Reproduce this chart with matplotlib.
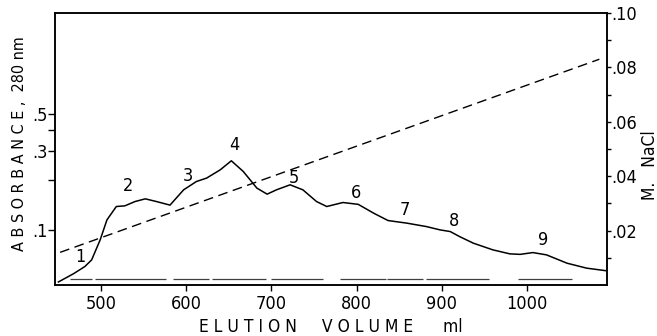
import matplotlib
matplotlib.use("Agg")
import matplotlib.pyplot as plt
from matplotlib.ticker import FixedLocator, NullFormatter, FuncFormatter

# elution profile, absorbance at 280 nm
elution_ml = [450, 468, 481, 489, 499, 507, 518, 528, 540, 552, 565, 581, 597,
              612, 624, 640, 653, 667, 683, 695, 706, 722, 737, 753, 765, 784,
              802, 820, 837, 859, 882, 898, 910, 921, 937, 960, 980, 992, 1007,
              1023, 1047, 1070, 1092]
absorbance = [0.049, 0.055, 0.0606, 0.0664, 0.0875, 0.1154, 0.1387, 0.140,
              0.1486, 0.1542, 0.1486, 0.1414, 0.1746, 0.1958, 0.2053, 0.2301,
              0.2606, 0.2249, 0.1788, 0.1645, 0.1746, 0.1871, 0.1746, 0.1486,
              0.1387, 0.1466, 0.1429, 0.1266, 0.1143, 0.1103, 0.1052, 0.1005,
              0.0982, 0.0916, 0.0837, 0.0763, 0.0722, 0.0717, 0.0735, 0.0712,
              0.0635, 0.0593, 0.0573]

# NaCl gradient (right axis)
gradient_ml = [452, 1085]
gradient_nacl = [0.012, 0.083]

# peak labels
peak_names = ["1", "2", "3", "4", "5", "6", "7", "8", "9"]
peak_ml = [476, 532, 602, 657, 726, 799, 857, 914, 1019]
peak_abs = [0.0696, 0.183, 0.212, 0.325, 0.205, 0.168, 0.132, 0.113, 0.088]

# pooled fractions (bars along the baseline)
pool_start = [464, 493, 584, 630, 700, 781, 836, 882, 989]
pool_end = [490, 576, 627, 694, 761, 834, 878, 955, 1053]
pool_level = 0.051

plt.rcParams["font.family"] = ["DejaVu Sans"]
plt.rcParams["font.stretch"] = "condensed"

fig = plt.figure(figsize=(6.57, 3.36), dpi=100)
ax = fig.add_axes([0.0837, 0.1518, 0.8402, 0.8095])

ax.plot(elution_ml, absorbance, color="black", lw=1.1)
ax.hlines([pool_level] * len(pool_start), pool_start, pool_end, color="0.25", lw=0.9)
for name, x, y in zip(peak_names, peak_ml, peak_abs):
    ax.text(x, y, name, ha="center", va="center", fontsize=13)

ax.set_yscale("log")
ax.set_ylim(0.047, 2.0)
ax.set_xlim(446, 1094)
ax.set_xticks([500, 600, 700, 800, 900, 1000])
ax.yaxis.set_major_locator(FixedLocator([0.1, 0.3, 0.5]))
ax.yaxis.set_major_formatter(FuncFormatter(lambda v, p: ("%.1f" % v)[1:]))
ax.yaxis.set_minor_locator(FixedLocator([0.2, 0.4]))
ax.yaxis.set_minor_formatter(NullFormatter())
ax.tick_params(axis="both", which="both", direction="out", width=1, labelsize=13)
ax.tick_params(axis="x", length=4, pad=3)
ax.tick_params(axis="y", which="both", length=5, pad=0)

ax2 = ax.twinx()
ax2.plot(gradient_ml, gradient_nacl, color="black", lw=1.0, dashes=(7, 4))
ax2.set_ylim(0, 0.10)
ax2.yaxis.set_major_locator(FixedLocator([0.02, 0.04, 0.06, 0.08, 0.10]))
ax2.yaxis.set_major_formatter(FuncFormatter(lambda v, p: ("%.2f" % v)[1:]))
ax2.yaxis.set_minor_locator(FixedLocator([0.01, 0.03, 0.05, 0.07, 0.09]))
ax2.tick_params(axis="y", which="both", direction="out", length=3, width=1,
                pad=0, labelsize=13)

for a in (ax, ax2):
    for s in a.spines.values():
        s.set_linewidth(1.1)

ax.set_xlabel("E L U T I O N     V O L U M E      ml", fontsize=12.5, labelpad=4)
ax.set_ylabel("A B S O R B A N C E ,  280 nm", fontsize=11.5)
ax.yaxis.set_label_coords(-0.051, 0.52)
ax2.set_ylabel("M.   NaCl", fontsize=12.5, rotation=90, va="center")
ax2.yaxis.set_label_coords(1.077, 0.44)

fig.savefig("out.png", dpi=100)
